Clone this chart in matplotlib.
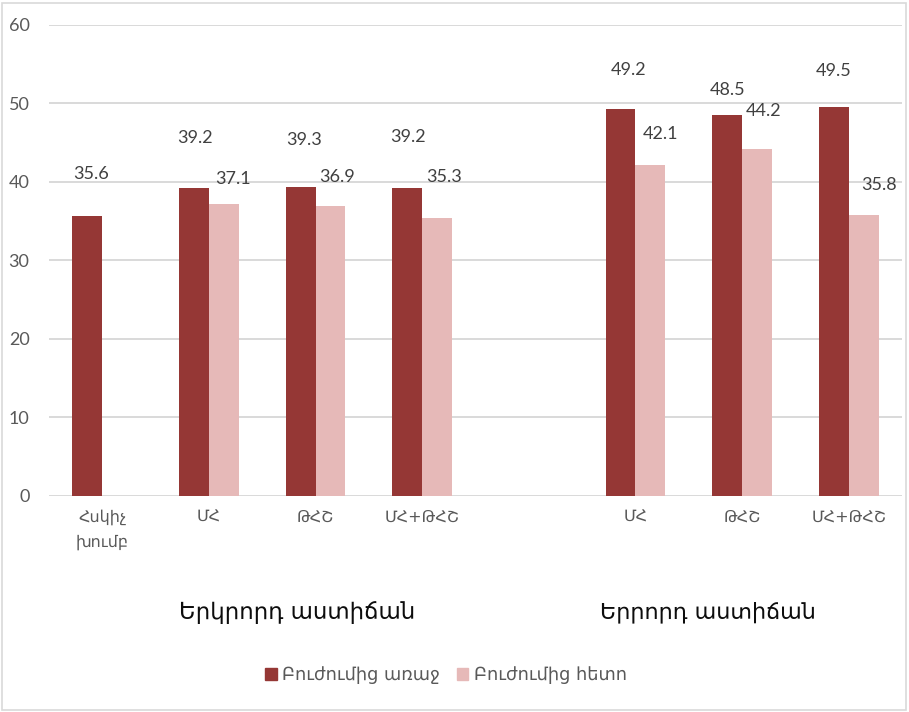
import numpy as np
import matplotlib.pyplot as plt
from matplotlib.patches import Rectangle, Patch
import matplotlib.transforms as mtransforms

plt.rcParams['font.family'] = ['Lato', 'DejaVu Sans']

# Data
categories = ["Հսկիչ\nխումբ", "ՄՀ", "ԹՀՇ", "ՄՀ+ԹՀՇ", "", "ՄՀ", "ԹՀՇ", "ՄՀ+ԹՀՇ"]
before = [35.6, 39.2, 39.3, 39.2, np.nan, 49.2, 48.5, 49.5]
after = [np.nan, 37.1, 36.9, 35.3, np.nan, 42.1, 44.2, 35.8]
groups = ["Երկրորդ աստիճան", "Երրորդ աստիճան"]
series_names = ["Բուժումից առաջ", "Բուժումից հետո"]

# label offsets (pixels) as they sit in the original
before_off = [(4, 42), (1, 50), (3, 47), (1, 51), (0, 0), (8, 39), (0, 25), (0, 36)]
after_off = [(0, 0), (9, 25), (7, 29), (7, 41), (0, 0), (10, 31), (7, 38), (15, 30)]

dark = '#953735'
light = '#E6B9B8'

fig = plt.figure(figsize=(9.09, 7.12), dpi=100)
ax = fig.add_axes([49 / 909, 1 - 495.7 / 712, 853 / 909, (495.7 - 24.5) / 712])

x = np.arange(len(categories))
w = 0.28
ax.bar(x - w / 2, before, w, color=dark, zorder=3)
ax.bar(x + w / 2, after, w, color=light, zorder=3)

for xi, v, off in zip(x, before, before_off):
    if not np.isnan(v):
        ax.annotate(f'{v:.1f}', (xi - w / 2, v), xytext=off, textcoords='offset pixels',
                    ha='center', va='center', fontsize=13, color='#404040')
for xi, v, off in zip(x, after, after_off):
    if not np.isnan(v):
        ax.annotate(f'{v:.1f}', (xi + w / 2, v), xytext=off, textcoords='offset pixels',
                    ha='center', va='center', fontsize=13, color='#404040')

ax.set_xlim(-0.5, len(categories) - 0.5)
ax.set_ylim(0, 60)
ax.set_yticks(range(0, 61, 10))
ax.yaxis.grid(True, color='#D9D9D9', linewidth=1.4, zorder=0)
ax.set_axisbelow(True)
for s in ax.spines.values():
    s.set_visible(False)
ax.tick_params(axis='y', length=0, pad=14, labelsize=13, labelcolor='#595959')
ax.tick_params(axis='x', length=0, pad=10)
ax.set_xticks(x)
ax.set_xticklabels(categories, fontsize=11.5, color='#595959', linespacing=1.75,
                   family=['DejaVu Sans'], va='top')

# group labels under the categories
trans = mtransforms.blended_transform_factory(ax.transData, fig.transFigure)
ax.text(1.83, 1 - 612 / 712, groups[0], transform=trans, ha='center', va='center',
        fontsize=16.5, color='#0D0D0D', family=['DejaVu Sans'])
ax.text(5.68, 1 - 612 / 712, groups[1], transform=trans, ha='center', va='center',
        fontsize=16, color='#0D0D0D', family=['DejaVu Sans'])

handles = [Patch(color=dark, label=series_names[0]), Patch(color=light, label=series_names[1])]
leg = fig.legend(handles=handles, loc='center', bbox_to_anchor=(446 / 909, 1 - 675 / 712),
                 ncol=2, frameon=False, handlelength=0.66, handleheight=0.66,
                 handletextpad=0.3, columnspacing=0.9,
                 prop={'family': ['DejaVu Sans'], 'size': 12.8})
for t in leg.get_texts():
    t.set_color('#595959')

# chart border
fig.patches.append(Rectangle((2 / 909, 2 / 712), 904 / 909, 707 / 712, transform=fig.transFigure,
                             fill=False, edgecolor='#D9D9D9', linewidth=1.2))

fig.savefig('out.png', dpi=100)
